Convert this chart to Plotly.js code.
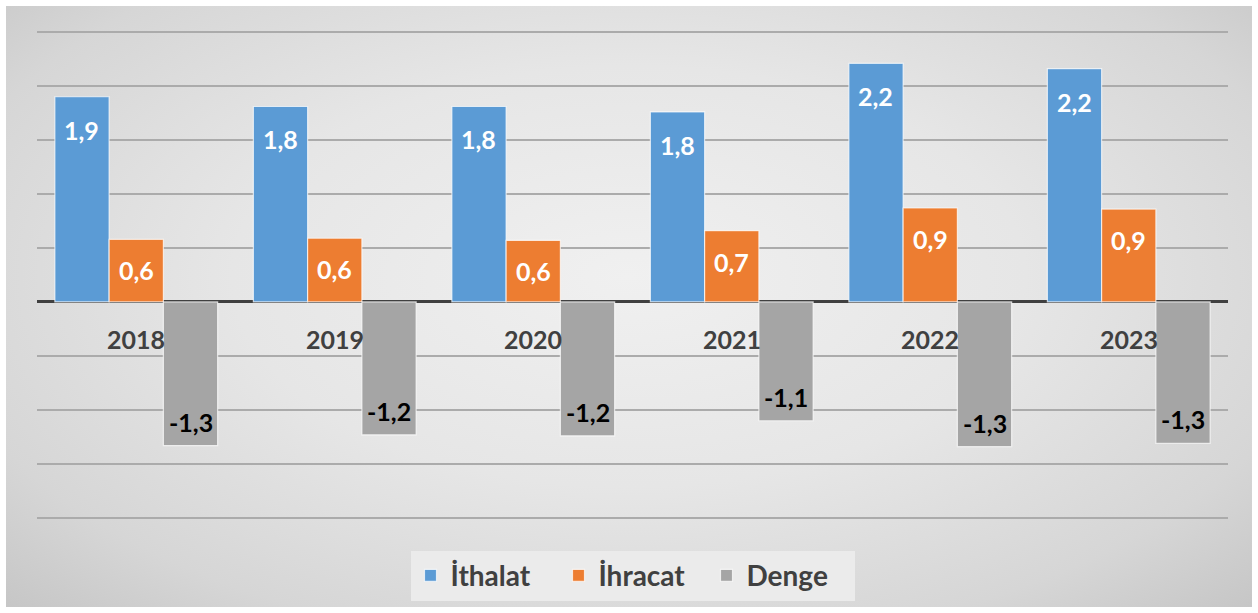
<!DOCTYPE html>
<html>
<head>
<meta charset="utf-8">
<script src="https://cdn.plot.ly/plotly-3.0.1.min.js"></script>
<style>
  html, body { margin:0; padding:0; background:#ffffff; }
  #frame { position:absolute; left:6px; top:6px; width:1246px; height:601px;
    background: radial-gradient(ellipse at 50% 45%, #f0f0f0 0%, #e6e6e6 45%, #d6d6d6 80%, #c6c6c6 100%); }
  #chart { position:absolute; left:0; top:0; width:1258px; height:613px; }
</style>
</head>
<body>
<div id="frame"></div>
<div id="chart"></div>
<script>
const years = ['2018', '2019', '2020', '2021', '2022', '2023'];
const ithalat = [1.9, 1.81, 1.81, 1.76, 2.21, 2.16];
const ihracat = [0.58, 0.59, 0.57, 0.66, 0.87, 0.86];
const denge = [-1.33, -1.23, -1.24, -1.10, -1.34, -1.31];
const seriesNames = ['İthalat', 'İhracat', 'Denge'];
const seriesColors = ['#5b9bd5', '#ed7d31', '#a5a5a5'];

const fmt = v => v.toFixed(1).replace('.', ',');
const allSeries = [ithalat, ihracat, denge];
const FONT = 'Lato, "Open Sans", sans-serif';

const traces = allSeries.map((vals, i) => ({
  type: 'bar', name: seriesNames[i], x: years, y: vals,
  marker: { color: seriesColors[i], line: { color: 'rgba(255,255,255,0.7)', width: 1.2 } },
  hoverinfo: 'skip'
}));

const bargap = 0.18;
const plotW = 1258 - 37 - 30;
const barPx = plotW / years.length * (1 - bargap) / 3;

const annotations = [];
allSeries.forEach((vals, i) => {
  vals.forEach((v, j) => {
    annotations.push({
      x: j, y: v, xref: 'x', yref: 'y', showarrow: false,
      text: '<b>' + fmt(v) + '</b>',
      xshift: (i - 1) * barPx,
      yshift: i === 2 ? 24 : (i === 0 ? -33 : -31),
      yanchor: 'middle', xanchor: 'center',
      font: { family: FONT, size: 25, color: i === 2 ? '#000000' : '#ffffff' }
    });
  });
});
years.forEach((yr, j) => {
  annotations.push({
    x: j, y: 0, xref: 'x', yref: 'y', showarrow: false,
    text: '<b>' + yr + '</b>', yshift: -37, yanchor: 'middle', xanchor: 'center',
    font: { family: FONT, size: 25, color: '#404040' }
  });
});

const layout = {
  width: 1258, height: 613,
  margin: { l: 37, r: 30, t: 27, b: 89 },
  paper_bgcolor: 'rgba(0,0,0,0)', plot_bgcolor: 'rgba(0,0,0,0)',
  barmode: 'group', bargap: bargap, bargroupgap: 0,
  font: { family: FONT, color: '#404040' },
  xaxis: {
    type: 'category', range: [-0.5, years.length - 0.5],
    showline: false, showgrid: false, zeroline: false, ticks: '', showticklabels: false, fixedrange: true
  },
  yaxis: {
    range: [-2.056, 2.546], tickvals: [-2, -1.5, -1, -0.5, 0, 0.5, 1, 1.5, 2, 2.5], showticklabels: false,
    showgrid: true, gridcolor: '#ababab', gridwidth: 1.5,
    zeroline: true, zerolinecolor: '#404040', zerolinewidth: 3, fixedrange: true
  },
  showlegend: true,
  legend: {
    orientation: 'h', x: 0.5, xanchor: 'center', y: -0.104, yanchor: 'middle',
    bgcolor: 'rgba(236,236,236,0.9)', borderwidth: 0,
    font: { family: FONT, size: 28, color: '#404040', weight: 'bold' },
    itemwidth: 30, traceorder: 'normal', entrywidth: 103
  },
  annotations: annotations
};

Plotly.newPlot('chart', traces, layout, { displayModeBar: false, staticPlot: true });
</script>
</body>
</html>
